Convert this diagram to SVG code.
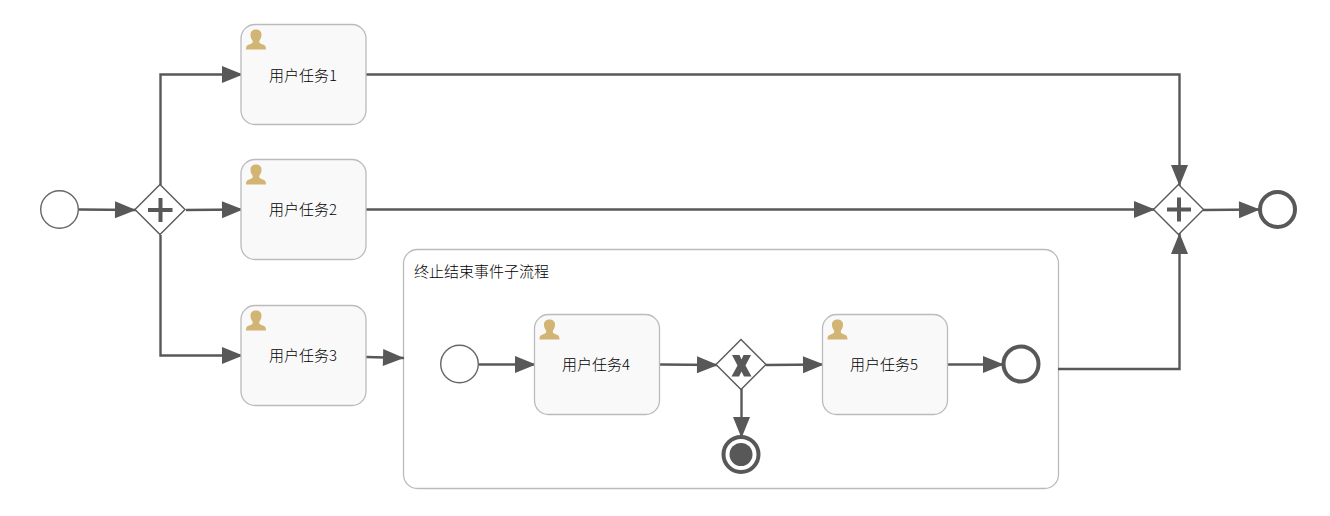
<svg xmlns="http://www.w3.org/2000/svg" width="1330" height="516" viewBox="0 0 1330 516">
  <style>
    text { font-family: "Noto Sans CJK SC", "Liberation Sans", sans-serif; font-size: 15px; font-weight: 300; fill: #000; }
    .task { fill: #f9f9f9; stroke: #bbb; stroke-width: 1.3; }
    .sub { fill: #fff; stroke: #bbb; stroke-width: 1.3; }
    .start { fill: #fff; stroke: #666; stroke-width: 1.4; }
    .end { fill: #fff; stroke: #585858; stroke-width: 4; }
    .gate { fill: #fff; stroke: #585858; stroke-width: 1.4; }
    .sign { fill: none; stroke: #585858; stroke-width: 4; }
    .flow { fill: none; stroke: #585858; stroke-width: 2.4; marker-end: url(#head); }
    .user { fill: #d2b574; }
  </style>
  <defs>
    <marker id="head" markerUnits="userSpaceOnUse" markerWidth="24" markerHeight="18" refX="22" refY="9" orient="auto">
      <path d="M1 0.500 L22 9 L1 17.500 Z" fill="#585858"/>
    </marker>
    <path id="person" class="user" d="M0 20 C0 16.500 1 15.500 4.500 14.500 C6.800 13.800 7 12.500 6.500 11 C5 9 4.500 7 4.500 5 C4.500 1.500 7 0 10 0 C13 0 15.500 1.500 15.500 5 C15.500 7 15 9 13.500 11 C13 12.500 13.200 13.800 15.500 14.500 C19 15.500 20 16.500 20 20 Z"/>
  </defs>

  <g id="subprocess">
    <rect class="sub" x="403.500" y="249.500" width="655" height="239" rx="14"/>
    <text x="414" y="277">终止结束事件子流程</text>
  </g>

  <g id="connectors">
    <path class="flow" d="M79 209.500 L136 210"/>
    <path class="flow" d="M160.500 185 V74.500 H243"/>
    <path class="flow" d="M186 210 L243 209.500"/>
    <path class="flow" d="M160.500 235 V355.500 H243"/>
    <path class="flow" d="M366 74.500 H1179.500 V186"/>
    <path class="flow" d="M366 209.500 H1155"/>
    <path class="flow" d="M366 357 L404 358"/>
    <path class="flow" d="M1058 369 H1179.500 V233"/>
    <path class="flow" d="M1203 210 L1260 209.500"/>
    <path class="flow" d="M479 364.500 H536"/>
    <path class="flow" d="M660 364.500 L718 365"/>
    <path class="flow" d="M766 365 L824 364.500"/>
    <path class="flow" d="M741.500 389 V438"/>
    <path class="flow" d="M947 364.500 H1004"/>
  </g>

  <g id="start1"><circle class="start" cx="59.500" cy="209.500" r="18.800"/></g>

  <g id="fork">
    <path class="gate" d="M160 184.500 L185 209.500 L160 234.500 L135 209.500 Z"/>
    <path class="sign" d="M148 210 H172.500 M160.500 198 V222"/>
  </g>

  <g id="task1">
    <rect class="task" x="241" y="24.500" width="125" height="100" rx="14"/>
    <use href="#person" x="246" y="29.500"/>
    <text x="269" y="81">用户任务1</text>
  </g>
  <g id="task2">
    <rect class="task" x="241" y="159.500" width="125" height="100" rx="14"/>
    <use href="#person" x="246" y="164.500"/>
    <text x="269" y="215">用户任务2</text>
  </g>
  <g id="task3">
    <rect class="task" x="241" y="305.500" width="125" height="100" rx="14"/>
    <use href="#person" x="246" y="310.500"/>
    <text x="269" y="361">用户任务3</text>
  </g>

  <g id="start2"><circle class="start" cx="459.500" cy="364" r="18.800"/></g>

  <g id="task4">
    <rect class="task" x="534.500" y="314.500" width="125" height="100" rx="14"/>
    <use href="#person" x="539.500" y="319.500"/>
    <text x="562" y="370">用户任务4</text>
  </g>

  <g id="xor">
    <path class="gate" d="M741 339.500 L766 364.500 L741 389.500 L716 364.500 Z"/>
    <path d="M732 355 H739.500 L741.500 359.500 L743.500 355 H751 L745.500 365.500 L751.500 376.500 H744 L741.500 371.500 L739 376.500 H731.500 L737.500 365.500 Z" fill="#585858"/>
  </g>

  <g id="task5">
    <rect class="task" x="822.500" y="314.500" width="125" height="100" rx="14"/>
    <use href="#person" x="827.500" y="319.500"/>
    <text x="850" y="370">用户任务5</text>
  </g>

  <g id="end-inner"><circle class="end" cx="1021" cy="364" r="17.500"/></g>

  <g id="terminate">
    <circle class="end" cx="741" cy="454.500" r="17.500"/>
    <circle cx="741" cy="454.500" r="11.500" fill="#585858"/>
  </g>

  <g id="join">
    <path class="gate" d="M1178.500 184.500 L1203.500 209.500 L1178.500 234.500 L1153.500 209.500 Z"/>
    <path class="sign" d="M1167 209.500 H1191 M1179 197.500 V221.500"/>
  </g>

  <g id="end-outer"><circle class="end" cx="1277.500" cy="209.500" r="17.500"/></g>
</svg>
